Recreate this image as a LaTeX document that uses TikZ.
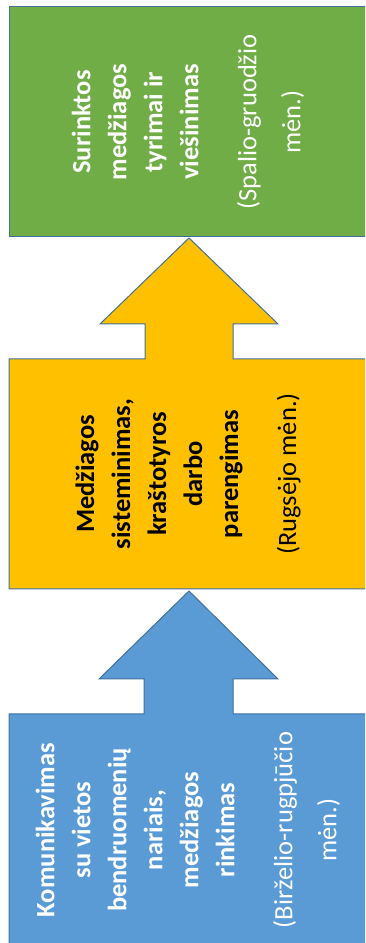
\documentclass[tikz,border=0pt]{standalone}
\usepackage{fontspec}
\setmainfont{Carlito}

\definecolor{edgeblue}{HTML}{41719C}
\definecolor{stepblue}{HTML}{5B9BD5}
\definecolor{stepyellow}{HTML}{FFC000}
\definecolor{stepgreen}{HTML}{70AD47}

\begin{document}
\begin{tikzpicture}[x=1pt, y=1pt,
	block/.style={draw=edgeblue, line width=1pt, line join=miter},
	boxtext/.style={rotate=90, align=center, font=\fontsize{26.5}{36}\selectfont}]
	\useasboundingbox (0,0) rectangle (365,943);
	\clip (0,0) rectangle (365,943);

	% first step
	\draw[block, fill=stepblue] (9,-5) -- (9,229) -- (144,229) -- (144,264) -- (99,264) -- (189,352) -- (278,264) -- (233,264) -- (233,229) -- (372,229) -- (372,-5) -- cycle;

	% second step
	\draw[block, fill=stepyellow] (9,354) -- (9,584) -- (145,584) -- (145,619) -- (100,619) -- (189,705) -- (278,619) -- (233,619) -- (233,584) -- (372,584) -- (372,354) -- cycle;

	% third step
	\draw[block, fill=stepgreen] (9,706) rectangle (372,936);

	\node[boxtext, text=white] (collect) at (188,113) {\textbf{Komunikavimas}\\\textbf{su vietos}\\\textbf{bendruomenių}\\\textbf{nariais,}\\\textbf{medžiagos}\\\textbf{rinkimas}\\[22pt](Birželio-rugpjūčio\\[8pt]mėn.)};

	\node[boxtext, text=black] (system) at (188,469) {\textbf{Medžiagos}\\\textbf{sisteminimas,}\\\textbf{kraštotyros}\\\textbf{darbo}\\\textbf{parengimas}\\[22pt](Rugsėjo mėn.)};

	\node[boxtext, text=white] (publish) at (188,821) {\textbf{Surinktos}\\\textbf{medžiagos}\\\textbf{tyrimai ir}\\\textbf{viešinimas}\\[22pt](Spalio-gruodžio\\[8pt]mėn.)};
\end{tikzpicture}
\end{document}
